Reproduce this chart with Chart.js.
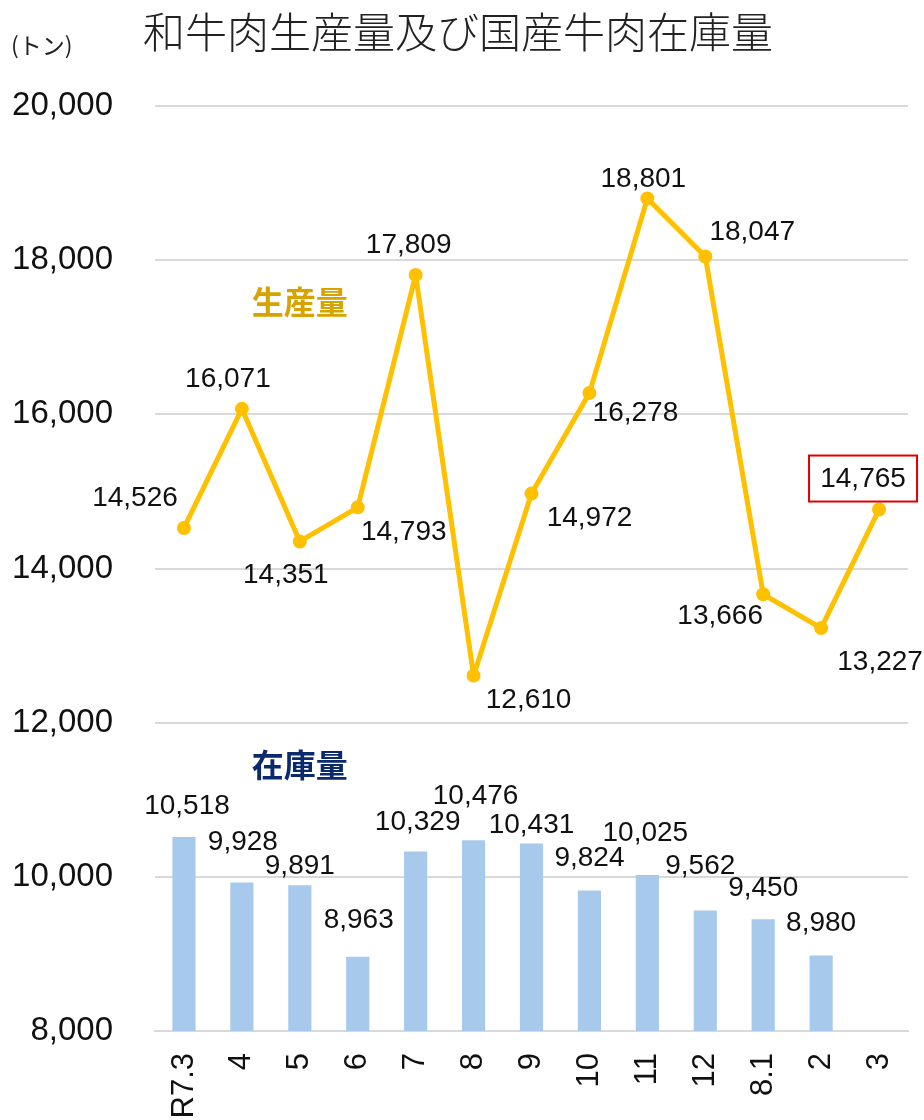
<!DOCTYPE html>
<html lang="ja">
<head>
<meta charset="utf-8">
<script src="https://cdn.jsdelivr.net/npm/chart.js@4/dist/chart.umd.min.js"></script>
<style>
  html, body { margin: 0; padding: 0; background: #fff; }
  #wrap { width: 924px; height: 1120px; }
</style>
</head>
<body>
<div id="wrap"><canvas id="c" width="924" height="1120"></canvas></div>
<script>
// ── Data ─────────────────────────────────────────────────────────────────────
const months     = ['R7.3', '4', '5', '6', '7', '8', '9', '10', '11', '12', '8.1', '2', '3']
const production = [14526, 16071, 14351, 14793, 17809, 12610, 14972, 16278, 18801, 18047, 13666, 13227, 14765]
const stock      = [10518, 9928, 9891, 8963, 10329, 10476, 10431, 9824, 10025, 9562, 9450, 8980, null]
const yTicks     = [8000, 10000, 12000, 14000, 16000, 18000, 20000]

// label nudges in px (layout only, not data)
const lineLabelShift = [[-49, -30], [-14, -30], [-14, 34], [46, 25], [-7, -30], [55, 25], [58, 25],
                        [46, 20], [-4, -19], [47, -24], [-43, 22], [59, 34], [-16, -30]]
const barLabelShift  = [[3, -31], [1, -40], [0, -19], [1, -36], [2, -29], [2, -44], [0, -18],
                        [0, -32], [-2, -42], [-5, -44], [0, -31], [0, -32], [0, 0]]
const boxedIndex = 12

const NUM_FONT = '"Liberation Sans", Arial, sans-serif'
const JP_FONT  = '"Noto Sans CJK JP", sans-serif'
const fmt = v => v.toLocaleString('en-US')

// ── Value labels + annotations ───────────────────────────────────────────────
const valueLabelsPlugin = {
  id: 'valueLabels',
  afterDatasetsDraw(chart) {
    const ctx = chart.ctx
    const xs = chart.scales.x
    const ys = chart.scales.y

    ctx.save()
    ctx.font = `28px ${NUM_FONT}`
    ctx.fillStyle = '#111'
    ctx.textAlign = 'center'
    ctx.textBaseline = 'middle'

    // production line labels
    const lineMeta = chart.getDatasetMeta(0)
    production.forEach((v, i) => {
      const el = lineMeta.data[i]
      if (!el) return
      const [dx, dy] = lineLabelShift[i]
      const x = el.x + dx
      const y = el.y + dy
      ctx.fillText(fmt(v), x, y)
      if (i === boxedIndex) {
        ctx.strokeStyle = '#E00000'
        ctx.lineWidth = 2
        ctx.strokeRect(x - 54, y - 24, 108, 46)
      }
    })

    // stock bar labels
    const barMeta = chart.getDatasetMeta(1)
    stock.forEach((v, i) => {
      const el = barMeta.data[i]
      if (!el || v == null) return
      const [dx, dy] = barLabelShift[i]
      ctx.fillText(fmt(v), el.x + dx, el.y + dy)
    })

    // series captions
    ctx.font = `bold 32px ${JP_FONT}`
    ctx.fillStyle = '#D6A300'
    ctx.fillText('生産量', xs.getPixelForValue(2), ys.getPixelForValue(17460))
    ctx.fillStyle = '#0B2A6E'
    ctx.fillText('在庫量', xs.getPixelForValue(2), ys.getPixelForValue(11450))

    // unit
    ctx.font = `23px ${JP_FONT}`
    ctx.fillStyle = '#222'
    ctx.textAlign = 'left'
    ctx.fillText('(トン)', 11, 45)
    ctx.restore()
  },
}

new Chart(document.getElementById('c'), {
  type: 'bar',
  plugins: [valueLabelsPlugin],
  data: {
    labels: months,
    datasets: [
      {
        type: 'line',
        label: '生産量',
        data: production,
        borderColor: '#FFC000',
        borderWidth: 5,
        borderJoinStyle: 'round',
        borderCapStyle: 'round',
        pointRadius: 7,
        pointBorderWidth: 0,
        pointBackgroundColor: '#FFC000',
        tension: 0,
        fill: false,
        order: 0,
      },
      {
        type: 'bar',
        label: '在庫量',
        data: stock,
        backgroundColor: '#A7CAEC',
        barPercentage: 0.8,
        categoryPercentage: 0.5,
        order: 1,
      },
    ],
  },
  options: {
    responsive: false,
    animation: false,
    layout: { padding: { top: 0, right: 16, bottom: 0, left: 8 } },
    plugins: {
      legend: { display: false },
      tooltip: { enabled: false },
      title: {
        display: true,
        text: '和牛肉生産量及び国産牛肉在庫量',
        color: '#222',
        font: { family: JP_FONT, size: 42, weight: 300 },
        padding: { top: 7, bottom: 48.6 },
      },
    },
    scales: {
      x: {
        grid: { display: false, drawTicks: false },
        border: { display: true, color: '#D9D9D9', width: 2 },
        ticks: {
          color: '#111',
          font: { family: NUM_FONT, size: 31 },
          minRotation: 90,
          maxRotation: 90,
          padding: 22,
        },
        afterFit: scale => {
          scale.height = 89
          scale.paddingLeft = 0
          scale.paddingRight = 0
        },
      },
      y: {
        min: 8000,
        max: 20000,
        afterBuildTicks: scale => { scale.ticks = yTicks.map(v => ({ value: v })) },
        grid: { color: '#D9D9D9', lineWidth: 2, drawTicks: false },
        border: { display: false },
        ticks: {
          color: '#111',
          font: { family: NUM_FONT, size: 33 },
          padding: 42,
          callback: v => fmt(v),
        },
        afterFit: scale => { scale.width = 147 },
      },
    },
  },
})
</script>
</body>
</html>
